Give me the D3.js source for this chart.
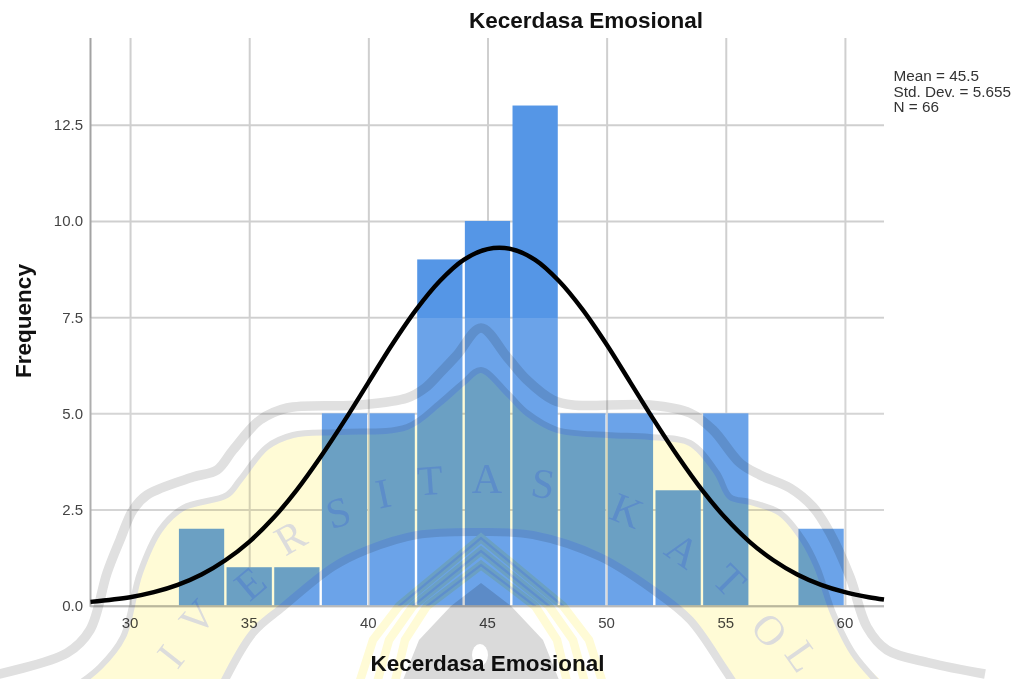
<!DOCTYPE html>
<html>
<head>
<meta charset="utf-8">
<script src="https://cdn.jsdelivr.net/npm/d3@7"></script>
<style>
  html, body { margin: 0; padding: 0; background: #fff; }
  svg { display: block; font-family: "Liberation Sans", Arial, sans-serif; }
  .grid line { stroke: #cfcfcf; stroke-width: 2px; }
  .grid path { display: none; }
  .tick-label { fill: #444; font-size: 15px; }
  .title { fill: #111; font-size: 22.5px; font-weight: bold; }
</style>
</head>
<body>
<div id="chart"></div>
<script>
// histogram values
const binStarts = [32, 34, 36, 38, 40, 42, 44, 46, 48, 50, 52, 54, 56, 58];
const frequencies = [2, 1, 1, 5, 5, 9, 10, 13, 5, 5, 3, 5, 0, 2];
const binWidth = 2;
// normal curve
const curveX = [28.34, 30, 31, 32, 33, 34, 35, 36, 37, 38, 39, 40, 41, 42, 43, 44, 45, 46, 47, 48, 49, 50, 51, 52, 53, 54, 55, 56, 57, 58, 59, 60, 61, 61.64];
const curveY = [0.1, 0.22, 0.35, 0.54, 0.81, 1.18, 1.66, 2.27, 3.01, 3.87, 4.81, 5.8, 6.79, 7.69, 8.44, 8.99, 9.27, 9.27, 8.99, 8.44, 7.69, 6.79, 5.8, 4.81, 3.87, 3.01, 2.27, 1.66, 1.18, 0.81, 0.54, 0.35, 0.22, 0.16];
const xTicks = [30, 35, 40, 45, 50, 55, 60];
const yTicks = [0, 2.5, 5, 7.5, 10, 12.5];
const statLines = ['Mean = 45.5', 'Std. Dev. = 5.655', 'N = 66'];

// watermark outline (page pixels, it is scanned over the chart, not data)
const wmOuter = [[-10,676],[67,653],[90,630],[107,573],[120,540],[133,510],[147,495],[193,477],[217,470],[233,450],[260,420],[287,408],[360,405],[407,398],[425,388],[440,373],[457,355],[481,328],[507,357],[527,380],[553,400],[573,405],[650,405],[690,413],[713,430],[740,463],[760,475],[790,488],[813,507],[830,533],[850,577],[867,627],[887,650],[930,663],[985,674]];
const wmInner = [[70,690],[100,667],[123,637],[140,573],[160,530],[183,508],[227,495],[240,480],[267,447],[293,435],[340,432],[407,427],[440,403],[463,383],[481,370],[507,393],[527,413],[557,430],[607,435],[650,437],[690,443],[717,473],[730,497],[750,502],[780,513],[803,540],[817,567],[833,613],[853,653],[885,690]];
const wmArc = [[220,690],[253,633],[283,607],[333,567],[367,550],[417,535],[481,532],[533,535],[600,557],[653,590],[690,620],[723,667],[738,690]];
const wmRings = [
  [[0,538],[82,606],[108,640],[124,690]],
  [[0,551],[68,606],[92,640],[106,690]],
  [[0,565],[54,606],[76,640],[88,690]]
];
const wmMound = [[0,583],[30,606],[62,640],[82,690]];
const wmLetters = [
  ['I',170,656,-52],['V',197,617,-48],['E',250,583,-40],['R',290,537,-30],['S',338,512,-17],
  ['I',383,493,-12],['T',430,480,-4],['A',487,478,0],['S',543,483,8],['K',627,510,22],
  ['A',683,550,35],['T',730,580,45],['O',770,630,50],['L',803,656,55]
];

const width = 1019, height = 679;
const plotLeft = 90.5, plotRight = 884, plotTop = 38, plotBottom = 605.7;

const svg = d3.select('#chart').append('svg').attr('width', width).attr('height', height);
svg.append('rect').attr('width', width).attr('height', height).attr('fill', '#fff');

const x = d3.scaleLinear().domain([28.34, 61.64]).range([plotLeft, plotRight]);
const y = d3.scaleLinear().domain([0, 14.755]).range([plotBottom, plotTop]);

// grid comes from the axes
svg.append('g').attr('class', 'grid')
  .attr('transform', `translate(0,${plotBottom})`)
  .call(d3.axisBottom(x).tickValues(xTicks).tickSize(-(plotBottom - plotTop)).tickFormat(''));
svg.append('g').attr('class', 'grid')
  .attr('transform', `translate(${plotLeft},0)`)
  .call(d3.axisLeft(y).tickValues(yTicks).tickSize(-(plotRight - plotLeft)).tickFormat(''));

// bars, a small gap left between neighbours
const barGap = 1.2;
svg.append('g').selectAll('rect')
  .data(frequencies.map((f, i) => ({ start: binStarts[i], f })).filter(d => d.f > 0))
  .join('rect')
  .attr('x', d => x(d.start) + barGap)
  .attr('y', d => y(d.f))
  .attr('width', d => x(d.start + binWidth) - x(d.start) - barGap * 2)
  .attr('height', d => y(0) - y(d.f))
  .attr('fill', '#5596e6');

// axis lines
svg.append('line').attr('x1', plotLeft).attr('x2', plotLeft).attr('y1', plotTop).attr('y2', plotBottom + 1)
  .attr('stroke', '#a3a3a3').attr('stroke-width', 2);
svg.append('line').attr('x1', plotLeft).attr('x2', plotRight).attr('y1', plotBottom + 0.5).attr('y2', plotBottom + 0.5)
  .attr('stroke', '#b0b0b0').attr('stroke-width', 2);

// watermark sheet lightens what is below y=318
svg.append('rect').attr('x', 0).attr('y', 318).attr('width', width).attr('height', height - 318)
  .attr('fill', '#fff').attr('fill-opacity', 0.13);

// curve
const line = d3.line().x((d, i) => x(curveX[i])).y(d => y(d)).curve(d3.curveCatmullRom);
svg.append('path').attr('d', line(curveY)).attr('fill', 'none').attr('stroke', '#000')
  .attr('stroke-width', 4.4).attr('stroke-linecap', 'butt');

// labels
svg.append('g').selectAll('text').data(xTicks).join('text')
  .attr('class', 'tick-label').attr('x', d => x(d)).attr('y', 628).attr('text-anchor', 'middle').text(d => d);
svg.append('g').selectAll('text').data(yTicks).join('text')
  .attr('class', 'tick-label').attr('x', 83).attr('y', d => y(d) + 5.5).attr('text-anchor', 'end').text(d3.format('.1f'));

svg.append('text').attr('class', 'title').attr('x', 586).attr('y', 28).attr('text-anchor', 'middle').text('Kecerdasa Emosional');
svg.append('text').attr('class', 'title').attr('x', 487.5).attr('y', 671).attr('text-anchor', 'middle').text('Kecerdasa Emosional');
svg.append('text').attr('class', 'title').attr('text-anchor', 'middle')
  .attr('transform', 'translate(31,321) rotate(-90)').text('Frequency');

svg.append('g').selectAll('text').data(statLines).join('text')
  .attr('x', 893.5).attr('y', (d, i) => 81 + i * 15.7)
  .attr('fill', '#333').attr('font-size', '15.3px').text(d => d);

// watermark shapes multiply over the chart
const wm = svg.append('g').style('mix-blend-mode', 'multiply');
const wmLine = d3.line().curve(d3.curveCatmullRom);
const mirror = half => half.slice().reverse().map(p => [481 - p[0], p[1]]).concat(half.slice(1).map(p => [481 + p[0], p[1]]));
const mirrorLine = d3.line().curve(d3.curveLinear);

svg.append('defs').append('clipPath').attr('id', 'above-axis')
  .append('rect').attr('x', 0).attr('y', 0).attr('width', width).attr('height', plotBottom);

wm.append('path').attr('d', wmLine(wmInner.concat(wmArc.slice().reverse())) + 'Z').attr('fill', '#fffbd6');
wm.append('path').attr('d', wmLine(wmOuter)).attr('fill', 'none').attr('stroke', '#e0e0e0').attr('stroke-width', 9.5);
wm.append('path').attr('d', wmLine(wmInner)).attr('fill', 'none').attr('stroke', '#e0e0e0').attr('stroke-width', 6);
wm.append('path').attr('d', wmLine(wmArc)).attr('fill', 'none').attr('stroke', '#e0e0e0').attr('stroke-width', 8);

wmRings.forEach(r => {
  wm.append('path').attr('d', mirrorLine(mirror(r))).attr('fill', 'none').attr('stroke', '#fffbd6').attr('stroke-width', 8.5);
  wm.append('path').attr('d', mirrorLine(mirror(r))).attr('fill', 'none').attr('stroke', '#e0e0e0').attr('stroke-width', 2.5)
    .attr('clip-path', 'url(#above-axis)');
});
wm.append('path').attr('d', mirrorLine(mirror(wmMound)) + 'Z').attr('fill', '#dadada');
wm.append('ellipse').attr('cx', 480).attr('cy', 655).attr('rx', 8).attr('ry', 11).attr('fill', '#fff');

wm.append('g').selectAll('text').data(wmLetters).join('text')
  .attr('transform', d => `translate(${d[1]},${d[2]}) rotate(${d[3]})`)
  .attr('text-anchor', 'middle').attr('dy', '0.35em')
  .attr('font-family', '"Liberation Serif", serif').attr('font-size', '42px')
  .attr('fill', '#dcdcdc').text(d => d[0]);
</script>
</body>
</html>
